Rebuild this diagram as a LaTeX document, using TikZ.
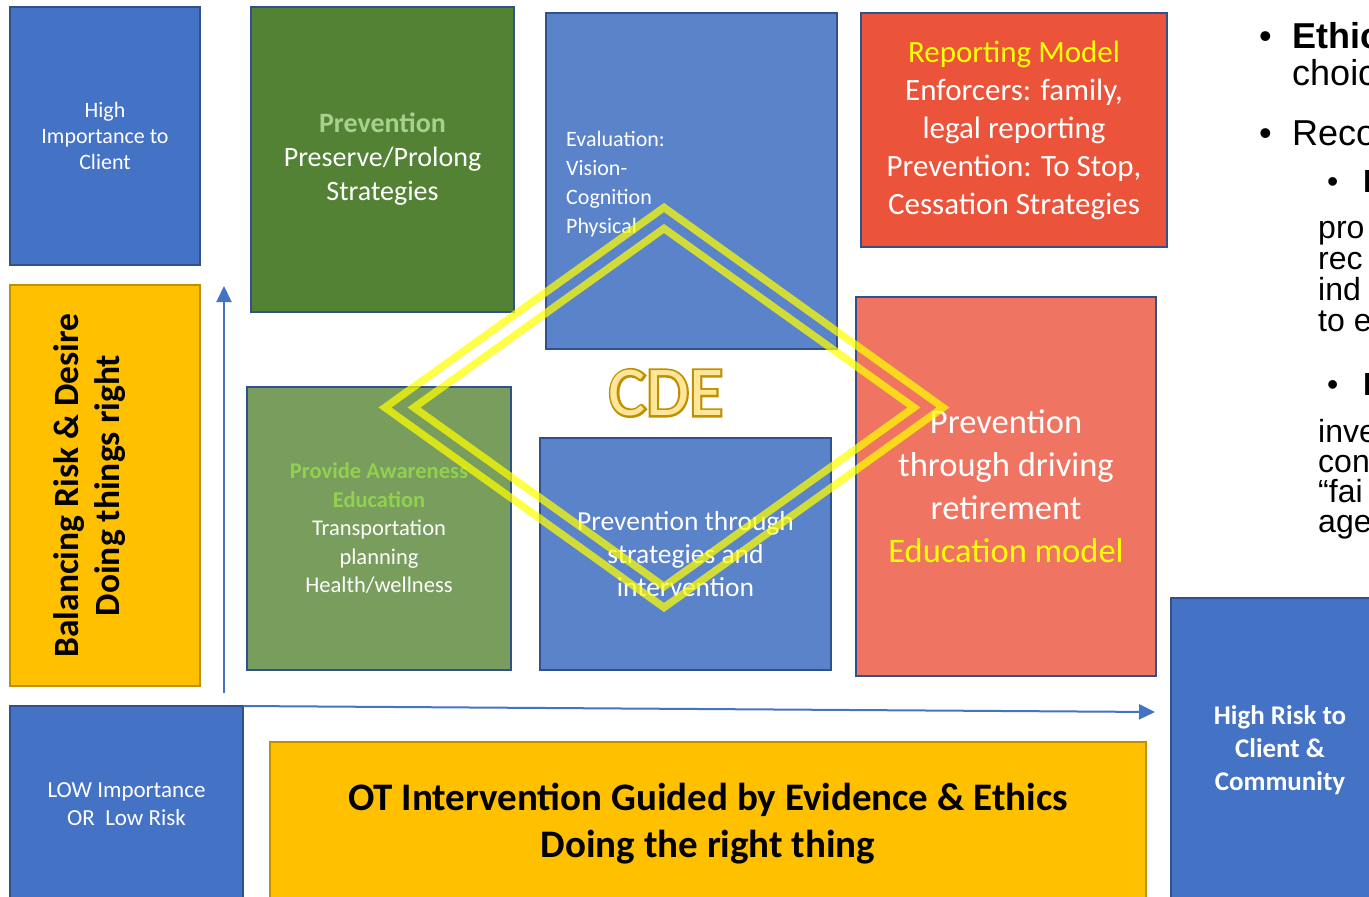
\documentclass[tikz,border=0pt]{standalone}
\usepackage{fontspec}
\setmainfont{Carlito}
\newfontfamily\arialfont{Liberation Sans}
\newfontfamily\cdeheavy[FakeBold=6]{Carlito}
\usetikzlibrary{arrows.meta}

\definecolor{accblue}{HTML}{4472C4}
\definecolor{edgeblue}{HTML}{2F528F}
\definecolor{softblue}{HTML}{5A83CA}
\definecolor{goldfill}{HTML}{FFC000}
\definecolor{goldedge}{HTML}{BF9000}
\definecolor{darkgreen}{HTML}{548235}
\definecolor{midgreen}{HTML}{789D5C}
\definecolor{palegreen}{HTML}{A9D18E}
\definecolor{brightgreen}{HTML}{92D050}
\definecolor{redbox}{HTML}{EB533B}
\definecolor{salmonbox}{HTML}{EF7562}
\definecolor{hiyellow}{HTML}{FFFF00}
\definecolor{cdefill}{HTML}{FFE699}

\newcommand\fsz[2]{\fontsize{#1bp}{#2bp}\selectfont}

\begin{document}
\begin{tikzpicture}[x=1bp,y=-1bp,
  panel/.style={rectangle, draw=edgeblue, line width=2bp, inner sep=0pt, outer sep=0pt,
                align=center, text=white},
  goldpanel/.style={panel, draw=goldedge, fill=goldfill, text=black},
  axis/.style={draw=accblue, line width=2bp,
               -{Triangle[length=16bp,width=15bp]}},
  diam/.style={draw=hiyellow, draw opacity=0.72, line width=7.5bp, line join=miter},
  rtxt/.style={anchor=base west, inner sep=0pt, font=\arialfont\fsz{36}{40}},
  rsub/.style={anchor=base west, inner sep=0pt, font=\arialfont\fsz{32}{34}}]

\useasboundingbox (0,0) rectangle (1369,896);
\fill[white] (0,0) rectangle (1369,896);

\begin{scope}
\clip (0,0) rectangle (1369,896);

% left column: axis labels
\node[panel, fill=accblue, minimum width=190bp, minimum height=258bp,
      font=\fsz{22}{26}] (hiimp) at (105,136)
  {High\\Importance to\\Client};
\node[goldpanel, minimum width=190bp, minimum height=401bp] (balance) at (105,485.5) {};
\node[rotate=90, align=center, inner sep=0pt, font=\fsz{35.5}{41}\bfseries] (balancetxt)
  at (90,485.5) {Balancing Risk \& Desire\\Doing things right};
\node[panel, fill=accblue, minimum width=233bp, minimum height=197bp,
      font=\fsz{23}{28}] (low) at (126.5,804.5)
  {LOW Importance\\OR\ \ Low Risk};

% central grid of strategies
\node[panel, fill=darkgreen, minimum width=263bp, minimum height=305bp,
      font=\fsz{28}{34}] (prevent) at (382.5,159.5)
  {\textcolor{palegreen}{\bfseries Prevention}\\Preserve/Prolong\\Strategies};
\node[panel, fill=softblue, minimum width=291bp, minimum height=336bp] (eval) at (691.5,181) {};
\node[anchor=north west, align=left, inner sep=0pt, text=white, font=\fsz{22}{29}]
  (evaltxt) at (566,131) {Evaluation:\\Vision-\\Cognition\\Physical};
\node[panel, fill=redbox, minimum width=306bp, minimum height=234bp,
      font=\fsz{31}{38}] (report) at (1014,130)
  {\textcolor{hiyellow}{Reporting Model}\\Enforcers: family,\\legal reporting\\Prevention: To Stop,\\Cessation Strategies};
\node[panel, fill=midgreen, minimum width=264bp, minimum height=283bp,
      font=\fsz{22.5}{28.5}] (aware) at (379,528.5)
  {\textcolor{brightgreen}{\bfseries Provide Awareness}\\\textcolor{brightgreen}{\bfseries Education}\\Transportation\\planning\\Health/wellness};
\node[panel, fill=softblue, minimum width=291bp, minimum height=232bp,
      font=\fsz{27.5}{33}] (strat) at (685.5,554)
  {Prevention through\\strategies and\\intervention};
\node[panel, fill=salmonbox, minimum width=300bp, minimum height=379bp,
      font=\fsz{34.5}{43}] (retire) at (1006,486.5)
  {Prevention\\through driving\\retirement\\\textcolor{hiyellow}{Education model}};

% bottom row
\node[goldpanel, minimum width=876bp, minimum height=163bp,
      font=\fsz{39}{47}\bfseries] (ot) at (708,823.5)
  {OT Intervention Guided by Evidence \& Ethics\\Doing the right thing};
\node[panel, fill=accblue, minimum width=218bp, minimum height=304bp,
      font=\fsz{27}{33}\bfseries] (risk) at (1280,750)
  {High Risk to\\Client \&\\Community};

% axes
\coordinate (yfoot) at (224,693);
\coordinate (ytip) at (224,286);
\coordinate (xtip) at (1155,712);
\draw[axis] (yfoot) -- (ytip);
\draw[axis] (low.north east) -- (xtip);

% the two translucent diamonds
\draw[diam] (385,407.5) -- (664,207.5) -- (943,407.5) -- (664,607.5) -- cycle;
\draw[diam] (414,407.5) -- (664,228.5) -- (914,407.5) -- (664,586.5) -- cycle;

% outlined CDE lettering: an emboldened gold layer under the pale letters
\node[inner sep=0pt, text=goldedge, font=\cdeheavy\fsz{70}{84}] (cdeedge) at (666,393) {CDE};
\node[inner sep=0pt, text=cdefill, font=\fsz{70}{84}] (cde) at (666,393) {CDE};

% bullet text on the right
\node[rtxt] (bul1) at (1259,48) {•};
\node[rtxt] (ethic) at (1292,48) {\bfseries Ethic};
\node[rtxt] (choic) at (1292,85) {choic};
\node[rtxt] (bul2) at (1259,145) {•};
\node[rtxt] (reco) at (1292,145) {Reco};
\node[rsub] (bul3) at (1327,192) {•};
\node[rsub] (sub1) at (1363,192) {\bfseries I};
\node[rsub] (pro) at (1318,238) {pro};
\node[rsub] (rec) at (1318,269) {rec};
\node[rsub] (ind) at (1318,300) {ind};
\node[rsub] (toe) at (1318,331) {to e};
\node[rsub] (bul4) at (1327,395) {•};
\node[rsub] (sub2) at (1363,395) {\bfseries I};
\node[rsub] (inve) at (1318,442) {inve};
\node[rsub] (con) at (1318,472) {con};
\node[rsub] (fai) at (1318,502) {“fai};
\node[rsub] (age) at (1318,532) {age};
\end{scope}
\end{tikzpicture}
\end{document}
